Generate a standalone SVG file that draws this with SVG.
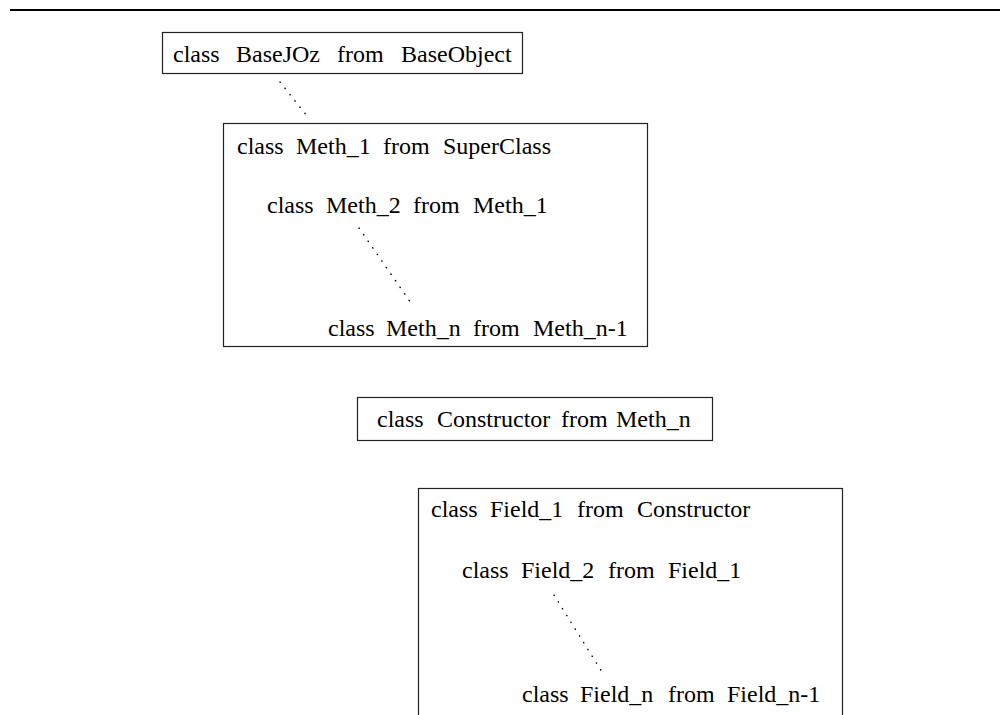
<svg xmlns="http://www.w3.org/2000/svg" width="1000" height="715" viewBox="0 0 1000 715">
<style>
  .box{fill:#fff;stroke:#222;stroke-width:1.2}
  .t{font-family:"Liberation Serif","Times New Roman",serif;font-size:24px;fill:#000}
  .dot{fill:none;stroke:#000;stroke-width:1.4;stroke-linecap:round;stroke-dasharray:0.4 7.6}
</style>
<rect width="1000" height="715" fill="#fff"/>
<line x1="10" y1="10" x2="1000" y2="10" stroke="#000" stroke-width="2.2"/>
<g id="node-basejoz">
  <rect class="box" x="162.5" y="32.5" width="360" height="41"/>
  <text class="t" y="62"><tspan x="173">class</tspan><tspan x="236">BaseJOz</tspan><tspan x="337">from</tspan><tspan x="401">BaseObject</tspan></text>
</g>
<g id="node-meth">
  <rect class="box" x="223.5" y="123.5" width="424" height="223"/>
  <text class="t" y="154"><tspan x="237">class</tspan><tspan x="296">Meth_1</tspan><tspan x="383">from</tspan><tspan x="443">SuperClass</tspan></text>
  <text class="t" y="213"><tspan x="267">class</tspan><tspan x="326">Meth_2</tspan><tspan x="413">from</tspan><tspan x="473">Meth_1</tspan></text>
  <text class="t" y="336"><tspan x="328">class</tspan><tspan x="386">Meth_n</tspan><tspan x="473">from</tspan><tspan x="533">Meth_n-1</tspan></text>
</g>
<g id="node-constructor">
  <rect class="box" x="357.5" y="397.5" width="355" height="43"/>
  <text class="t" y="427"><tspan x="377">class</tspan><tspan x="437">Constructor</tspan><tspan x="561">from</tspan><tspan x="616">Meth_n</tspan></text>
</g>
<g id="node-field">
  <rect class="box" x="418.5" y="488.5" width="424" height="260"/>
  <text class="t" y="517"><tspan x="431">class</tspan><tspan x="490">Field_1</tspan><tspan x="577">from</tspan><tspan x="637">Constructor</tspan></text>
  <text class="t" y="578"><tspan x="462">class</tspan><tspan x="521">Field_2</tspan><tspan x="608">from</tspan><tspan x="668">Field_1</tspan></text>
  <text class="t" y="702"><tspan x="522">class</tspan><tspan x="580">Field_n</tspan><tspan x="668">from</tspan><tspan x="727">Field_n-1</tspan></text>
</g>
<g id="connectors">
  <line class="dot" x1="280" y1="82" x2="307" y2="116"/>
  <line class="dot" x1="359" y1="228" x2="411" y2="303"/>
  <line class="dot" x1="554" y1="595" x2="602" y2="672"/>
</g>
</svg>
